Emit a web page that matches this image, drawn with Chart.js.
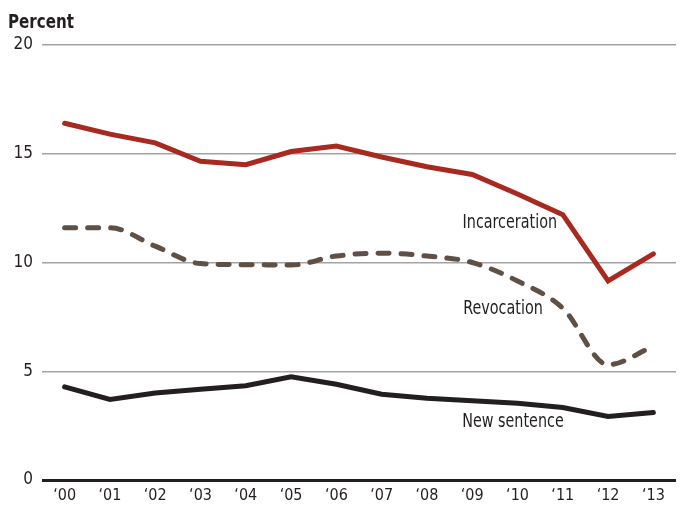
<!DOCTYPE html>
<html>
<head>
<meta charset="utf-8">
<script src="https://cdn.jsdelivr.net/npm/chart.js@4"></script>
<style>
  html, body { margin: 0; padding: 0; background: #ffffff; }
  #wrap { width: 682px; height: 512px; position: relative; }
</style>
</head>
<body>
<div id="wrap"><canvas id="c" width="682" height="512"></canvas></div>
<script>
// ---- data ----
const years = ["\u201800", "\u201801", "\u201802", "\u201803", "\u201804", "\u201805", "\u201806",
               "\u201807", "\u201808", "\u201809", "\u201810", "\u201811", "\u201812", "\u201813"];
const incarceration = [16.4, 15.9, 15.5, 14.65, 14.5, 15.1, 15.35, 14.85, 14.4, 14.05, 13.15, 12.2, 9.15, 10.4];
const revocation    = [11.6, 11.6, 10.75, 9.95, 9.9, 9.88, 10.3, 10.43, 10.3, 10.0, 9.15, 7.9, 5.3, 6.15];
const newSentence   = [4.28, 3.7, 4.0, 4.17, 4.33, 4.74, 4.4, 3.94, 3.76, 3.64, 3.53, 3.33, 2.92, 3.1];
const yTicks = [0, 5, 10, 15, 20];
const seriesNames = ["Incarceration", "Revocation", "New sentence"];
const axisTitle = "Percent";

const FONT = "'Liberation Sans Narrow', 'DejaVu Sans Condensed', 'Roboto Condensed', sans-serif";
const INK = "#231f20";

// label anchors in data space: [category index, value]
const labelAnchors = [[9.83, 11.8], [9.68, 7.85], [9.9, 2.66]];

function condensedText(ctx, text, x, y, sx) {
  ctx.save();
  ctx.translate(x, y);
  ctx.scale(sx, 1);
  ctx.fillText(text, 0, 0);
  ctx.restore();
}

const textPlugin = {
  id: 'texts',
  afterDraw(chart) {
    const ctx = chart.ctx;
    const xs = chart.scales.x, ys = chart.scales.y;
    ctx.save();
    ctx.fillStyle = INK;
    ctx.font = "bold 20px " + FONT;
    ctx.textAlign = 'left';
    ctx.textBaseline = 'alphabetic';
    condensedText(ctx, axisTitle, 8, 28, 0.84);
    ctx.font = "19px " + FONT;
    ctx.textAlign = 'center';
    ctx.textBaseline = 'middle';
    seriesNames.forEach((name, i) => {
      const [ix, v] = labelAnchors[i];
      const x0 = xs.getPixelForValue(Math.floor(ix));
      const x1 = xs.getPixelForValue(Math.floor(ix) + 1);
      const px = x0 + (x1 - x0) * (ix - Math.floor(ix));
      condensedText(ctx, name, px, ys.getPixelForValue(v), 0.84);
    });
    ctx.restore();
  }
};

new Chart(document.getElementById('c'), {
  type: 'line',
  data: {
    labels: years,
    datasets: [
      { label: seriesNames[0], data: incarceration, borderColor: '#a8291f', borderWidth: 5,
        pointRadius: 0, tension: 0, borderCapStyle: 'round', borderJoinStyle: 'miter' },
      { label: seriesNames[1], data: revocation, borderColor: '#5f4f45', borderWidth: 5,
        borderDash: [11, 12], borderCapStyle: 'round', pointRadius: 0, tension: 0.3,
        cubicInterpolationMode: 'monotone' },
      { label: seriesNames[2], data: newSentence, borderColor: INK, borderWidth: 5,
        pointRadius: 0, tension: 0, borderCapStyle: 'round' }
    ]
  },
  options: {
    responsive: false,
    animation: false,
    devicePixelRatio: 1,
    layout: { padding: { top: 45, right: 6, left: 0, bottom: 0 } },
    plugins: { legend: { display: false }, tooltip: { enabled: false }, title: { display: false } },
    scales: {
      x: {
        type: 'category',
        offset: true,
        grid: { display: false, drawTicks: false },
        border: { display: false },
        ticks: { color: INK, font: { family: FONT, size: 16 }, padding: 6, maxRotation: 0, autoSkip: false },
        afterFit(scale) { scale.height = 32; }
      },
      y: {
        min: 0, max: 20,
        afterBuildTicks(scale) { scale.ticks = yTicks.map(v => ({ value: v })); },
        grid: {
          drawTicks: false,
          color: c => c.tick && c.tick.value === 0 ? INK : '#a3a3a3',
          lineWidth: c => c.tick && c.tick.value === 0 ? 3 : 1.5
        },
        border: { display: false },
        ticks: { color: INK, font: { family: FONT, size: 17 }, padding: 9 },
        afterFit(scale) { scale.width = 42; }
      }
    }
  },
  plugins: [textPlugin]
});
</script>
</body>
</html>
